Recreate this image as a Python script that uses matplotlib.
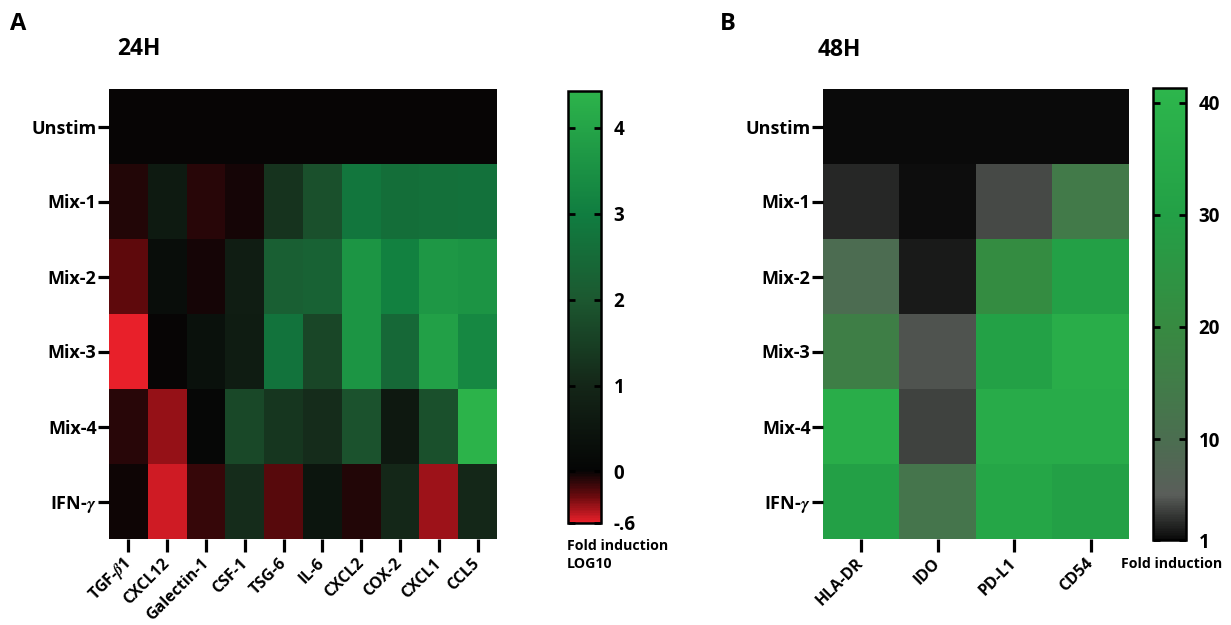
import numpy as np
import matplotlib
matplotlib.use('Agg')
import matplotlib.pyplot as plt
from matplotlib.colors import LinearSegmentedColormap

plt.rcParams['font.family'] = ['Open Sans', 'DejaVu Sans']
plt.rcParams['font.weight'] = 'bold'
plt.rcParams['mathtext.fontset'] = 'stix'

conditions = ['Unstim', 'Mix-1', 'Mix-2', 'Mix-3', 'Mix-4', r'IFN-$\gamma$']
genes_24h = [r'TGF-$\beta$1', 'CXCL12', 'Galectin-1', 'CSF-1', 'TSG-6',
             'IL-6', 'CXCL2', 'COX-2', 'CXCL1', 'CCL5']
markers_48h = ['HLA-DR', 'IDO', 'PD-L1', 'CD54']

# fold induction, log10 (24h)
log_fold_24h = [
    [0.0, 0.0, 0.0, 0.0, 0.0, 0.0, 0.0, 0.0, 0.0, 0.0],
    [-0.07, 0.65, -0.10, -0.04, 1.28, 1.84, 2.80, 2.60, 2.65, 2.70],
    [-0.25, 0.27, -0.045, 0.75, 2.20, 2.27, 3.64, 3.10, 3.70, 3.60],
    [-0.60, 0.0, 0.40, 0.70, 2.75, 1.64, 3.64, 2.46, 3.90, 3.30],
    [-0.10, -0.39, 0.08, 1.68, 1.34, 1.14, 1.88, 0.60, 1.84, 4.40],
    [-0.02, -0.53, -0.145, 1.14, -0.24, 0.50, -0.077, 1.04, -0.41, 1.04],
]

# fold induction (48h)
fold_48h = [
    [1.0, 1.0, 1.0, 1.0],
    [2.5, 1.3, 4.0, 14.5],
    [9.5, 1.8, 21.0, 30.0],
    [16.0, 4.5, 30.5, 37.0],
    [37.0, 3.7, 36.0, 36.0],
    [30.0, 12.5, 33.0, 30.0],
]

cbar_ticks_24h = [-0.6, 0, 1, 2, 3, 4]
cbar_labels_24h = ['-.6', '0', '1', '2', '3', '4']
cbar_ticks_48h = [1, 10, 20, 30, 40]

vmin_a, vmax_a = -0.6, 4.43
vmin_b, vmax_b = 1.0, 41.3


def make_cmap(anchors, vmin, vmax):
    pts = [((v - vmin) / (vmax - vmin), c) for v, c in anchors]
    return LinearSegmentedColormap.from_list('prism', pts)


cmap_a = make_cmap([(-0.6, '#e8202a'), (-0.3, '#6a0a0e'), (0, '#050505'),
                    (1, '#142618'), (2, '#1c5830'), (3, '#107d40'),
                    (4.43, '#2db44b')], vmin_a, vmax_a)
cmap_b = make_cmap([(1, '#0a0a0a'), (5, '#5a5e5a'), (10, '#4b6e50'),
                    (20, '#378a41'), (30, '#23a046'), (41.3, '#2db64c')],
                   vmin_b, vmax_b)

fig = plt.figure(figsize=(12.31, 6.25), dpi=100)

W, H = 1231, 625


def box(x0, y0, x1, y1):
    return [x0 / W, 1 - y1 / H, (x1 - x0) / W, (y1 - y0) / H]


ax_a = fig.add_axes(box(109, 89, 497, 539))
cax_a = fig.add_axes(box(568, 91, 601, 523))
ax_b = fig.add_axes(box(823, 89, 1129, 539))
cax_b = fig.add_axes(box(1153, 88, 1186, 540))


def draw_heat(ax, cax, data, cols, cmap, vmin, vmax):
    im = ax.imshow(np.array(data), cmap=cmap, vmin=vmin, vmax=vmax,
                   aspect='auto', interpolation='nearest')
    for s in ax.spines.values():
        s.set_visible(False)
    ax.set_yticks(range(len(conditions)))
    ax.set_yticklabels(conditions, fontsize=13, fontweight='bold')
    ax.set_xticks(range(len(cols)))
    ax.set_xticklabels(cols, fontsize=11.5, fontweight='bold', rotation=45,
                       ha='right', va='center', rotation_mode='anchor')
    ax.tick_params(axis='y', length=8, width=2.3, pad=1)
    ax.tick_params(axis='x', length=9, width=2.3, pad=7)
    cb = fig.colorbar(im, cax=cax)
    cb.outline.set_linewidth(1.8)
    cax.minorticks_off()
    cax.tick_params(direction='in', left=True, right=True, length=5, width=2,
                    labelsize=13.5, pad=9)
    return cb


cb_a = draw_heat(ax_a, cax_a, log_fold_24h, genes_24h, cmap_a, vmin_a, vmax_a)
cb_a.set_ticks(cbar_ticks_24h)
cb_a.set_ticklabels(cbar_labels_24h, fontweight='bold')

cb_b = draw_heat(ax_b, cax_b, fold_48h, markers_48h, cmap_b, vmin_b, vmax_b)
cb_b.set_ticks(cbar_ticks_48h)
cb_b.set_ticklabels([str(t) for t in cbar_ticks_48h], fontweight='bold')

fig.text(10 / W, 1 - 24 / H, 'A', fontsize=17, fontweight='bold', va='center')
fig.text(720 / W, 1 - 24 / H, 'B', fontsize=17, fontweight='bold', va='center')
fig.text(117 / W, 1 - 49 / H, '24H', fontsize=16.5, fontweight='bold', va='center')
fig.text(818 / W, 1 - 50 / H, '48H', fontsize=16.5, fontweight='bold', va='center')

fig.text(567 / W, 1 - 539 / H, 'Fold induction\nLOG10', fontsize=10.2,
         fontweight='bold', va='top', ha='left', linespacing=1.4)
fig.text(1121 / W, 1 - 564 / H, 'Fold induction', fontsize=10.2,
         fontweight='bold', va='center', ha='left')

fig.savefig('out.png', dpi=100)
